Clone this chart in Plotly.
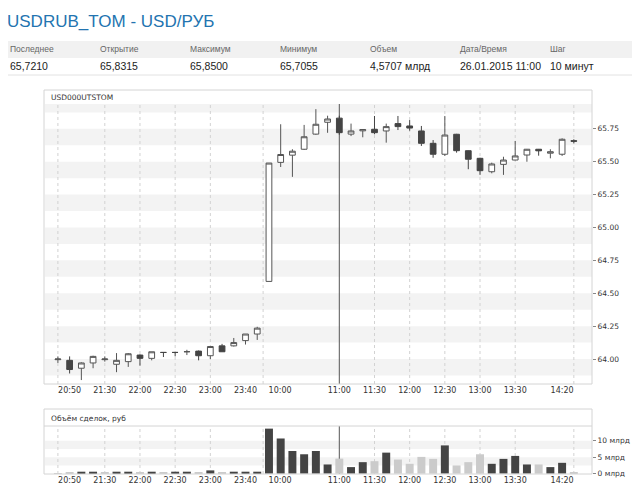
import plotly.graph_objects as go

# свечи USD000UTSTOM, шаг 10 минут (вечерняя сессия 25.01 + утро 26.01)
opens = [63.995, 63.99, 63.93, 63.97, 63.995, 63.96, 63.98, 64.03, 64.005, 64.05, 64.05, 64.055,
         64.06, 64.025, 64.10, 64.10, 64.14, 64.19,
         64.59, 65.495, 65.55, 65.595, 65.71, 65.80, 65.8315, 65.71, 65.735, 65.747, 65.734,
         65.79, 65.772, 65.734, 65.64, 65.557, 65.709, 65.584, 65.526, 65.424, 65.48, 65.513,
         65.551, 65.595, 65.565, 65.557, 65.66]
highs = [64.02, 64.02, 63.975, 64.025, 64.02, 64.045, 64.045, 64.035, 64.055, 64.052, 64.05, 64.07,
         64.065, 64.095, 64.115, 64.16, 64.19, 64.245,
         65.49, 65.785, 65.595, 65.78, 65.90, 65.85, 65.85, 65.79, 65.748, 65.848, 65.79,
         65.848, 65.817, 65.772, 65.665, 65.848, 65.712, 65.586, 65.53, 65.493, 65.538, 65.658,
         65.597, 65.597, 65.595, 65.678, 65.671]
lows = [63.97, 63.89, 63.84, 63.93, 63.98, 63.90, 63.94, 63.95, 63.99, 64.015, 64.02, 64.03,
        63.99, 64.0, 64.055, 64.095, 64.11, 64.145,
        64.59, 65.46, 65.385, 65.59, 65.705, 65.72, 65.7055, 65.695, 65.686, 65.709, 65.645,
        65.741, 65.736, 65.62, 65.53, 65.544, 65.569, 65.443, 65.40, 65.412, 65.40, 65.511,
        65.50, 65.546, 65.526, 65.544, 65.64]
closes = [64.0, 63.92, 63.97, 64.02, 64.0, 63.99, 64.04, 64.005, 64.055, 64.05, 64.05, 64.056,
          64.025, 64.095, 64.055, 64.125, 64.19, 64.235,
          65.49, 65.555, 65.58, 65.69, 65.785, 65.825, 65.721, 65.734, 65.745, 65.721, 65.767,
          65.767, 65.756, 65.64, 65.557, 65.703, 65.584, 65.519, 65.432, 65.483, 65.513, 65.544,
          65.595, 65.583, 65.576, 65.671, 65.656]

# объём сделок, млрд руб; 1 = тёмный столбец, 0 = светлый
volumes = [0.2, 0.4, 0.6, 0.6, 0.4, 0.6, 0.6, 0.4, 0.6, 0.4, 0.6, 0.6, 0.4, 1.0, 0.4, 0.6, 0.6, 0.6,
           13.7, 10.7, 6.9, 5.9, 6.9, 2.8, 4.5707, 2.0, 3.5, 3.8, 6.4, 4.3, 3.0, 5.1, 4.5, 8.6,
           2.5, 3.5, 5.9, 3.0, 4.5, 5.4, 2.8, 2.8, 2.0, 3.3, 0.5]
volume_dark = [0, 0, 1, 1, 0, 1, 1, 0, 1, 0, 1, 1, 0, 1, 0, 1, 1, 1,
               1, 1, 1, 1, 1, 1, 0, 1, 1, 0, 1, 0, 0, 0, 0, 1,
               0, 0, 0, 1, 1, 1, 1, 0, 1, 1, 0]

# подписи оси времени: индекс свечи -> текст
tick_index = [0, 4, 7, 10, 13, 16, 18, 24, 27, 30, 33, 36, 39, 44]
tick_text = ['20:50', '21:30', '22:00', '22:30', '23:00', '23:40', '10:00', '11:00',
             '11:30', '12:00', '12:30', '13:00', '13:30', '14:20']
grid_index = [0, 4, 7, 10, 13, 17.5, 27, 30, 33, 36, 39, 44]
current_index = 24  # 11:00

price_ticks = [64.00, 64.25, 64.50, 64.75, 65.00, 65.25, 65.50, 65.75]
volume_ticks = [0, 5, 10]
volume_tick_text = ['0 млрд', '5 млрд', '10 млрд']

table_head = ['Последнее', 'Открытие', 'Максимум', 'Минимум', 'Объем', 'Дата/Время', 'Шаг']
table_vals = ['65,7210', '65,8315', '65,8500', '65,7055', '4,5707 млрд', '26.01.2015 11:00', '10 минут']

# страница открывается с отступом body 8px, поэтому фигура меньше окна
OFF = 8
W, H = 640 - 2 * OFF, 492 - 2 * OFF
idx = list(range(len(opens)))


def px(x):
    return (x - OFF) / W


def py(y):
    return 1 - (y - OFF) / H


XR = [-1.1, 45.55]
YR = [63.81, 65.939]
VR = [-0.1, 14.5]
BAND = '#f3f3f3'
GRID = '#d2d2d2'
BOX = '#d4d4d4'
TXT = '#333333'

fig = go.Figure()

fig.add_trace(go.Candlestick(
    x=idx, open=opens, high=highs, low=lows, close=closes,
    increasing=dict(fillcolor='white', line=dict(color='#555555', width=1)),
    decreasing=dict(fillcolor='#444444', line=dict(color='#444444', width=1)),
    whiskerwidth=0, showlegend=False, hoverinfo='skip',
    xaxis='x', yaxis='y'
))

fig.add_trace(go.Bar(
    x=idx, y=volumes, width=0.68,
    marker=dict(color=['#444444' if d else '#cbcbcb' for d in volume_dark], line=dict(width=0)),
    showlegend=False, hoverinfo='skip',
    xaxis='x2', yaxis='y2'
))

shapes = []
# полосы фона
for v in price_ticks + [price_ticks[-1] + 0.25]:
    shapes.append(dict(type='rect', xref='x', yref='y', x0=XR[0], x1=XR[1],
                       y0=v - 0.125, y1=min(v, YR[1]), fillcolor=BAND, line=dict(width=0), layer='below'))
for v in [5, 10]:
    shapes.append(dict(type='rect', xref='x2', yref='y2', x0=XR[0], x1=XR[1],
                       y0=v - 2.5, y1=v, fillcolor=BAND, line=dict(width=0), layer='below'))
# пунктирная сетка
for g in grid_index:
    shapes.append(dict(type='line', xref='x', yref='y', x0=g, x1=g, y0=YR[0], y1=YR[1],
                       line=dict(color=GRID, width=1, dash='dot'), layer='below'))
    shapes.append(dict(type='line', xref='x2', yref='y2', x0=g, x1=g, y0=VR[0], y1=VR[1],
                       line=dict(color=GRID, width=1, dash='dot'), layer='below'))
# текущая свеча
shapes.append(dict(type='line', xref='x', yref='y', x0=current_index, x1=current_index,
                   y0=YR[0], y1=YR[1], line=dict(color='#555555', width=1), layer='below'))
shapes.append(dict(type='line', xref='x2', yref='y2', x0=current_index, x1=current_index,
                   y0=VR[0], y1=VR[1], line=dict(color='#555555', width=1), layer='below'))
# рамки панелей
shapes.append(dict(type='rect', xref='paper', yref='paper', x0=px(44), x1=px(592), y0=py(384), y1=py(90),
                   line=dict(color=BOX, width=1)))
shapes.append(dict(type='rect', xref='paper', yref='paper', x0=px(44), x1=px(592), y0=py(474), y1=py(409),
                   line=dict(color=BOX, width=1)))
shapes.append(dict(type='line', xref='paper', yref='paper', x0=px(44), x1=px(592), y0=py(426), y1=py(426),
                   line=dict(color=BOX, width=1)))
# таблица
shapes.append(dict(type='rect', xref='paper', yref='paper', x0=px(8), x1=px(632), y0=py(58), y1=py(41),
                   fillcolor='#f1f1f1', line=dict(width=0), layer='below'))
shapes.append(dict(type='line', xref='paper', yref='paper', x0=px(8), x1=px(632), y0=py(75), y1=py(75),
                   line=dict(color='#e2e2e2', width=1)))

annotations = [
    dict(text='USDRUB_TOM - USD/РУБ', x=px(5), y=py(21), xref='paper', yref='paper',
         xanchor='left', yanchor='middle', showarrow=False,
         font=dict(family='Liberation Sans', size=17, color='#2374b0')),
    dict(text='USD000UTSTOM', x=px(49), y=py(97), xref='paper', yref='paper',
         xanchor='left', yanchor='middle', showarrow=False,
         font=dict(family='DejaVu Sans', size=7.5, color=TXT)),
    dict(text='Объём сделок, руб', x=px(49), y=py(418), xref='paper', yref='paper',
         xanchor='left', yanchor='middle', showarrow=False,
         font=dict(family='DejaVu Sans', size=7.5, color=TXT)),
]
for i, (h, v) in enumerate(zip(table_head, table_vals)):
    annotations.append(dict(text=h, x=px(8 + 90 * i), y=py(49), xref='paper', yref='paper',
                            xanchor='left', yanchor='middle', showarrow=False,
                            font=dict(family='Liberation Sans', size=8.5, color='#666666')))
    annotations.append(dict(text=v, x=px(8 + 90 * i), y=py(66), xref='paper', yref='paper',
                            xanchor='left', yanchor='middle', showarrow=False,
                            font=dict(family='Liberation Sans', size=10.5, color='#222222')))

# крайние подписи сдвинуты внутрь, 10:00 — вправо от 23:40
label_shift = {0: 1.0, 18: 0.95, 44: -1.0}
tick_pos = [t + label_shift.get(t, 0) for t in tick_index]

xcommon = dict(range=XR, domain=[px(45), px(592)], tickvals=tick_pos, ticktext=tick_text,
               ticks='', showgrid=False, zeroline=False, showline=False, fixedrange=True,
               tickfont=dict(family='DejaVu Sans', size=8, color=TXT), automargin=False)

fig.update_layout(
    width=W, height=H,
    margin=dict(l=0, r=0, t=0, b=0),
    paper_bgcolor='white', plot_bgcolor='rgba(0,0,0,0)',
    boxgap=0.3, bargap=0.32,
    xaxis=dict(anchor='y', rangeslider=dict(visible=False), **xcommon),
    xaxis2=dict(anchor='y2', matches='x', **xcommon),
    yaxis=dict(anchor='x', domain=[py(384), py(104)], range=YR, side='right',
               tickvals=price_ticks, ticktext=[f'{v:.2f}' for v in price_ticks],
               ticks='outside', ticklen=3, tickcolor='#888888', showgrid=False, zeroline=False,
               tickfont=dict(family='DejaVu Sans', size=7.5, color=TXT), automargin=False, fixedrange=True),
    yaxis2=dict(anchor='x2', domain=[py(474), py(426)], range=VR, side='right',
                tickvals=volume_ticks, ticktext=volume_tick_text,
                ticks='outside', ticklen=3, tickcolor='#888888', showgrid=False, zeroline=False,
                tickfont=dict(family='DejaVu Sans', size=7.5, color=TXT), automargin=False, fixedrange=True),
    shapes=shapes,
    annotations=annotations,
    showlegend=False,
)

fig.write_html("out.html")
